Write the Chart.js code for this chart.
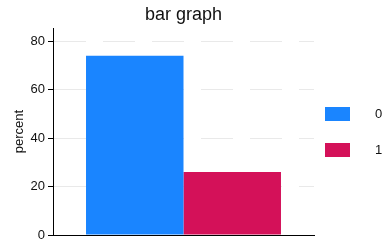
<!DOCTYPE html>
<html><head><meta charset="utf-8">
<script src="https://cdn.jsdelivr.net/npm/chart.js@4/dist/chart.umd.min.js"></script>
<style>html,body{margin:0;padding:0;background:#fff}canvas{display:block}</style>
</head><body>
<canvas id="c" width="390" height="242"></canvas>
<script>
const categories = [''];
const seriesNames = ['0', '1'];
const values0 = [74];
const values1 = [26];
const yTicks = [0, 20, 40, 60, 80];
const colors = ['#1A85FF', '#D41159'];
const titleText = 'bar graph';
const yTitle = 'percent';
const FONT = "'Liberation Sans', Arial, sans-serif";

const overlay = {
  id: 'overlay',
  afterDraw(chart) {
    const ctx = chart.ctx, a = chart.chartArea;
    ctx.save();
    ctx.fillStyle = '#111';
    ctx.font = '18px ' + FONT;
    ctx.textAlign = 'center';
    ctx.textBaseline = 'middle';
    ctx.fillText(titleText, (a.left + a.right) / 2, 15);
    ctx.font = '13px ' + FONT;
    ctx.textAlign = 'left';
    chart.data.datasets.forEach((ds, i) => {
      const y = 107 + i * 36;
      ctx.fillStyle = ds.backgroundColor;
      ctx.fillRect(a.right + 11, y, 25, 14);
      ctx.fillStyle = '#111';
      ctx.fillText(ds.label, a.right + 61, y + 7.5);
    });
    ctx.restore();
  }
};

new Chart(document.getElementById('c'), {
  type: 'bar',
  data: {
    labels: categories,
    datasets: [
      { label: seriesNames[0], data: values0, backgroundColor: colors[0] },
      { label: seriesNames[1], data: values1, backgroundColor: colors[1] }
    ]
  },
  options: {
    responsive: false,
    animation: false,
    layout: { padding: { top: 28, right: 76, left: 0, bottom: 0 } },
    categoryPercentage: 0.747,
    barPercentage: 1,
    plugins: { legend: { display: false }, title: { display: false }, tooltip: { enabled: false } },
    scales: {
      x: {
        ticks: { display: false },
        grid: { display: false },
        border: { display: true, color: '#000', width: 1 },
        afterFit(s) { s.height = 7; s.paddingLeft = 0; s.paddingRight = 0; }
      },
      y: {
        min: 0, max: 85.4,
        afterBuildTicks(s) { s.ticks = yTicks.map(v => ({ value: v })); },
        ticks: { color: '#111', font: { family: FONT, size: 13 }, padding: 3 },
        grid: { color: '#e9e9e9', lineWidth: 1, drawTicks: true, tickLength: 5, tickColor: '#000', tickBorderDash: [] },
        border: { display: true, color: '#000', width: 1, dash: [32, 17] },
        title: { display: true, text: yTitle, color: '#111', font: { family: FONT, size: 13 }, padding: { top: 12, bottom: 0 } },
        afterFit(s) { s.width = 53; s.paddingTop = 0; s.paddingBottom = 0; }
      }
    }
  },
  plugins: [overlay]
});
</script>
</body></html>
